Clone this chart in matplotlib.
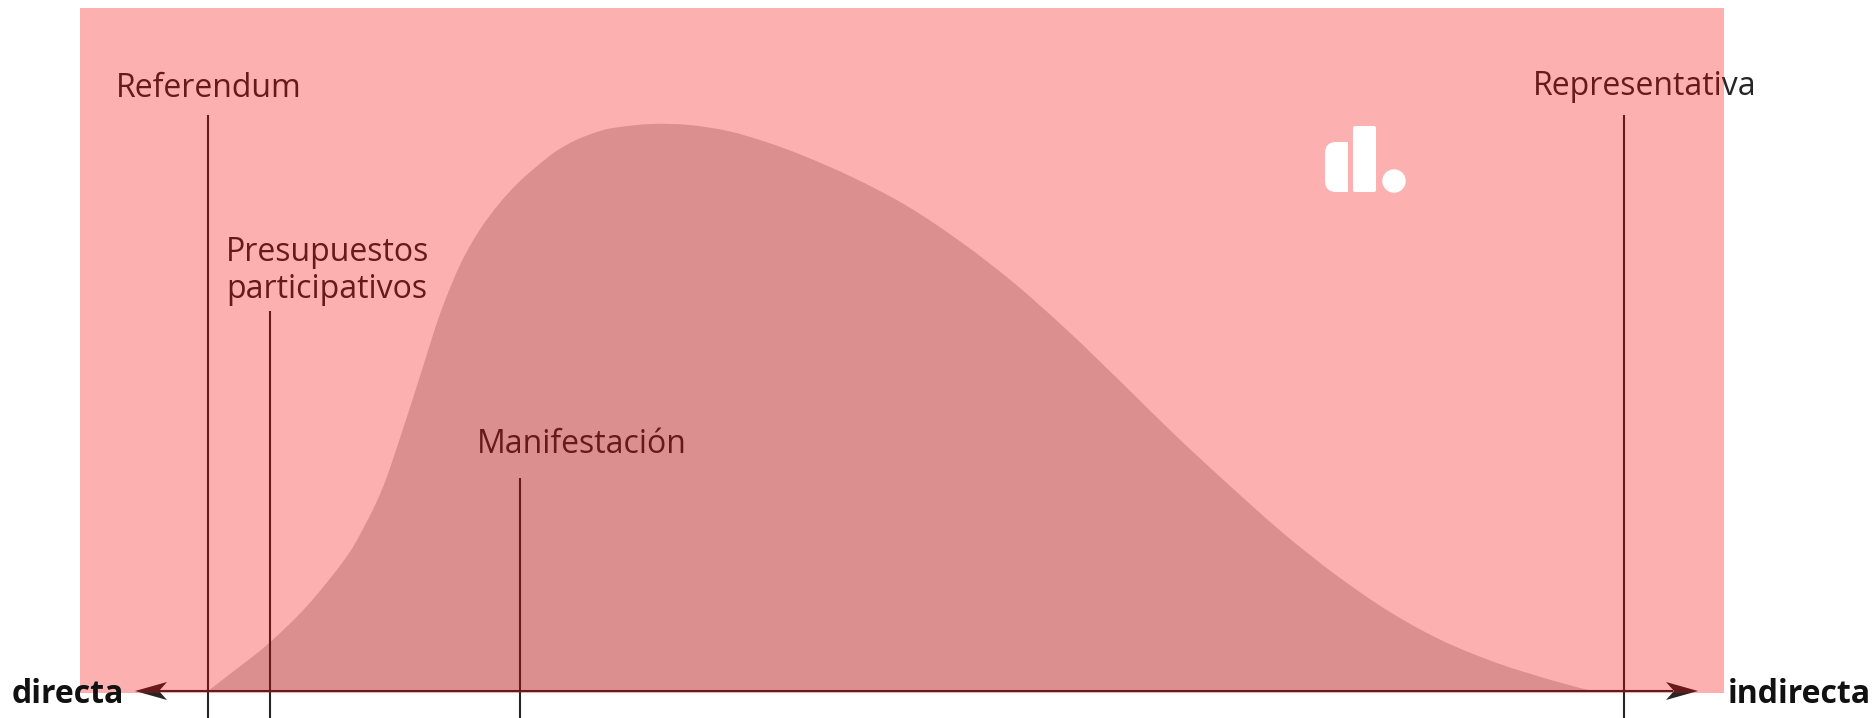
import matplotlib
matplotlib.use("Agg")
import matplotlib.pyplot as plt
from matplotlib.patches import Rectangle, FancyBboxPatch, Circle, Polygon, PathPatch
from matplotlib.path import Path

# --- DATA (read off the picture, pixel units, measured from the top) ---
# curve of "how much participation" along the directa -> indirecta axis
curve_x = [208, 230, 268, 307, 345, 364, 383, 402, 421, 440, 460, 479, 498, 517,
           536, 555, 574, 594, 613, 651, 689, 728, 766, 804, 854, 907, 961, 1014,
           1068, 1122, 1175, 1229, 1283, 1336, 1390, 1443, 1497, 1551, 1592]
curve_top = [691, 674, 644, 606, 559, 527, 487, 432, 373, 314, 265, 231, 205, 184,
             167, 152, 141, 133, 128, 124, 125, 131, 142, 156, 178, 206, 242, 283,
             331, 383, 435, 485, 533, 575, 612, 641, 663, 680, 691]

markers = ["Referendum", "Presupuestos\nparticipativos", "Manifestación", "Representativa"]
marker_x = [208, 270, 520, 1624]
marker_line_top = [115, 311, 478, 115]
label_x = [116, 226, 477, 1533]
label_base = [97, 261, 453, 95]

axis_labels = ["directa", "indirecta"]

# --- CONFIG ---
W, H = 1875, 718
BASE = 691           # baseline (from top)
INK = "#262626"
FONT = "Open Sans"

def up(y):
    # picture coords are from the top, axes go up
    return H - y

fig = plt.figure(figsize=(W / 100, H / 100), dpi=100)
fig.patch.set_facecolor("white")
ax = fig.add_axes([0, 0, 1, 1])
ax.set_xlim(0, W)
ax.set_ylim(0, H)
ax.axis("off")

# curve: smooth cubic path through the read points (catmull-rom tangents)
pts = [(x, up(y)) for x, y in zip(curve_x, curve_top)]
n = len(pts)
verts = [pts[0]]
codes = [Path.MOVETO]
for i in range(n - 1):
    p0 = pts[max(i - 1, 0)]
    p1 = pts[i]
    p2 = pts[i + 1]
    p3 = pts[min(i + 2, n - 1)]
    c1 = (p1[0] + (p2[0] - p0[0]) / 6, p1[1] + (p2[1] - p0[1]) / 6)
    c2 = (p2[0] - (p3[0] - p1[0]) / 6, p2[1] - (p3[1] - p1[1]) / 6)
    verts += [c1, c2, p2]
    codes += [Path.CURVE4] * 3
verts += [(curve_x[0], up(BASE)), pts[0]]
codes += [Path.LINETO, Path.CLOSEPOLY]
ax.add_patch(PathPatch(Path(verts, codes), fc="#d0d0d0", ec="none", zorder=1))

# marker lines + labels
for name, x, top, lx, lb in zip(markers, marker_x, marker_line_top, label_x, label_base):
    ax.plot([x, x], [up(top), 0], color=INK, lw=1.5, zorder=2, solid_capstyle="butt")
    for k, line in enumerate(name.split("\n")):
        ax.text(lx, up(lb + 37 * k), line, ha="left", va="baseline",
                fontsize=23, family=FONT, color=INK, zorder=2)

# axis line with arrow heads
ax.plot([160, 1672], [up(BASE), up(BASE)], color=INK, lw=1.5, zorder=2)
for tip, d in [(135, 1), (1698, -1)]:
    y0 = up(BASE)
    head = [(tip, y0), (tip + d * 32, y0 + 9), (tip + d * 24, y0), (tip + d * 32, y0 - 9)]
    ax.add_patch(Polygon(head, closed=True, color=INK, lw=0, zorder=2))

# red highlight overlay
ax.add_patch(Rectangle((80, up(693)), 1724 - 80, 693 - 8,
                       facecolor=(0.965, 0, 0), alpha=0.31, lw=0, zorder=3))

# logo
ax.add_patch(FancyBboxPatch((1325, up(192)), 23, 50,
                            boxstyle="round,pad=0,rounding_size=11",
                            fc="white", ec="none", zorder=4))
ax.add_patch(Rectangle((1337, up(192)), 11, 50, fc="white", ec="none", zorder=4))
ax.add_patch(FancyBboxPatch((1353, up(192)), 23, 66,
                            boxstyle="round,pad=0,rounding_size=2",
                            fc="white", ec="none", zorder=4))
ax.add_patch(Circle((1394, up(181)), 11.7, fc="white", ec="none", zorder=4))

# axis end labels
ax.text(12, up(703), axis_labels[0], ha="left", va="baseline", fontsize=23,
        fontweight="bold", family=FONT, color="#111111", zorder=5)
ax.text(1728, up(703), axis_labels[1], ha="left", va="baseline", fontsize=23,
        fontweight="bold", family=FONT, color="#111111", zorder=5)

fig.savefig("out.png", dpi=100)
